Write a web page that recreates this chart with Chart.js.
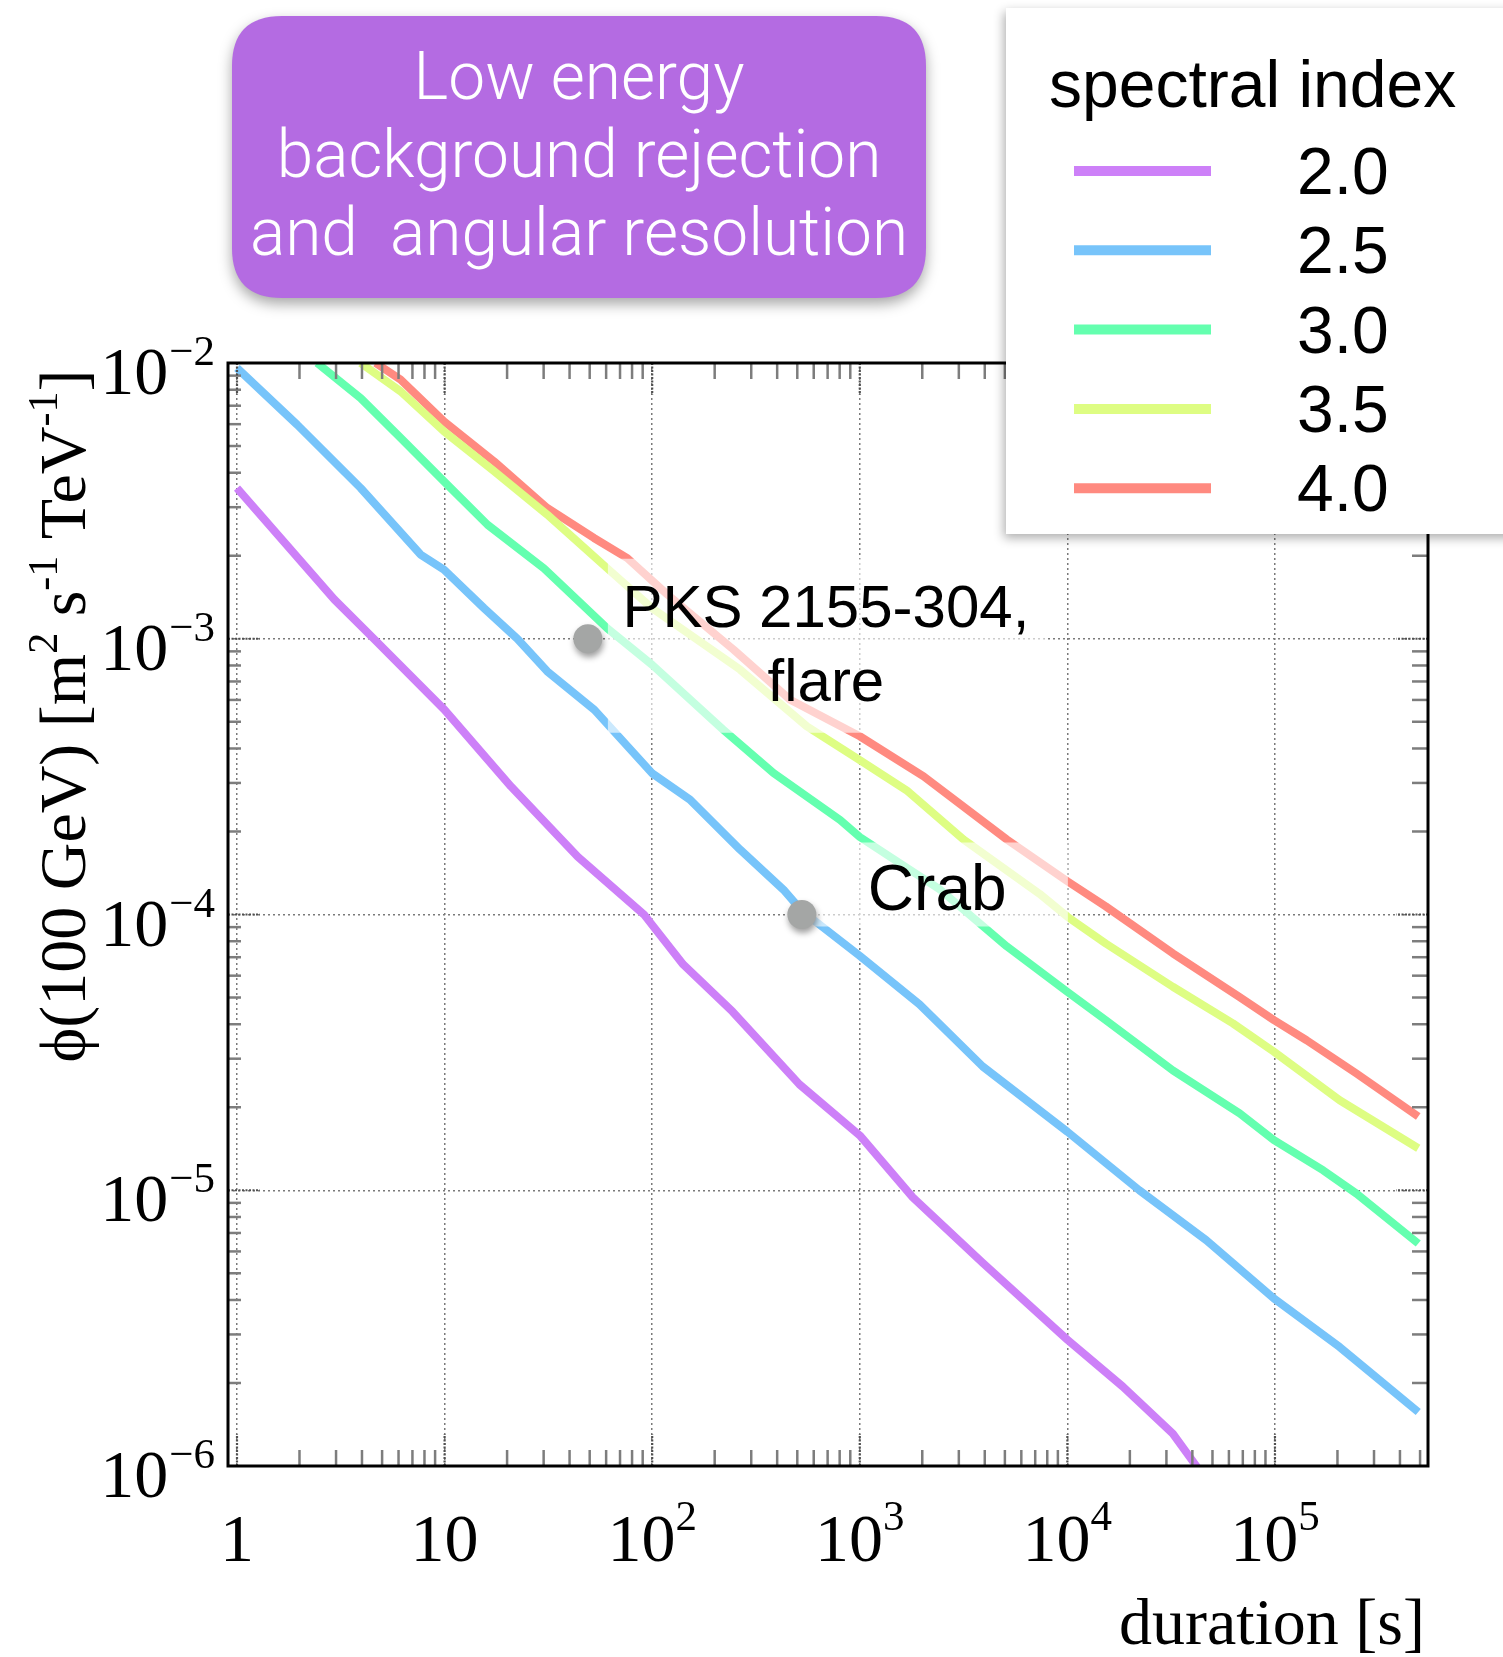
<!DOCTYPE html>
<html>
<head>
<meta charset="utf-8">
<script src="https://cdn.jsdelivr.net/npm/chart.js@4.4.1/dist/chart.umd.min.js"></script>
<style>
html,body{margin:0;padding:0;background:#fff;overflow:hidden}
#wrap{position:relative;width:1503px;height:1657px}
</style>
</head>
<body>
<div id="wrap"><canvas id="c"></canvas></div>
<script>
// ---------------- data ----------------
const seriesLabels = ["2.0", "2.5", "3.0", "3.5", "4.0"];
const seriesColors = ["#cd80f8", "#77c4fa", "#64ffaf", "#defd83", "#ff8a80"];

const dur20 = [1, 2.94, 4.56, 10, 20.9, 43.8, 91.8, 141, 244, 512, 1000, 1800, 3910, 1.0e4, 1.85e4, 3.22e4, 4.18e4, 4.57e4];
const phi20 = [3.52e-3, 1.39e-3, 1.00e-3, 5.52e-4, 2.91e-4, 1.62e-4, 9.95e-5, 6.59e-5, 4.44e-5, 2.42e-5, 1.58e-5, 9.42e-6, 5.45e-6, 2.87e-6, 1.94e-6, 1.31e-6, 1.0e-6, 8.7e-7];

const dur25 = [1, 1.95, 3.94, 7.66, 9.93, 15.5, 22.4, 31.2, 52.7, 100, 152, 265, 429, 526, 1000, 1940, 3910, 1.0e4, 2.22e4, 4.67e4, 9.89e4, 2.05e5, 4.9e5];
const phi25 = [9.59e-3, 5.97e-3, 3.52e-3, 2.02e-3, 1.78e-3, 1.29e-3, 1.00e-3, 7.62e-4, 5.52e-4, 3.25e-4, 2.61e-4, 1.72e-4, 1.23e-4, 1.03e-4, 7.08e-5, 4.72e-5, 2.81e-5, 1.63e-5, 1.0e-5, 6.59e-6, 4.05e-6, 2.70e-6, 1.57e-6];

const dur30 = [2.43, 3.94, 6.14, 9.93, 16.1, 30.1, 60.8, 100, 220, 384, 804, 1000, 2440, 5110, 1.0e4, 1.53e4, 3.22e4, 6.76e4, 9.89e4, 1.71e5, 2.47e5, 4.9e5];
const phi30 = [1.0e-2, 7.46e-3, 5.35e-3, 3.72e-3, 2.59e-3, 1.80e-3, 1.09e-3, 8.04e-4, 4.68e-4, 3.26e-4, 2.20e-4, 1.91e-4, 1.23e-4, 7.66e-5, 5.24e-5, 4.14e-5, 2.72e-5, 1.90e-5, 1.52e-5, 1.18e-5, 9.72e-6, 6.41e-6];

const dur35 = [3.94, 6.14, 9.93, 17.3, 31.2, 60.8, 100, 265, 556, 1000, 1680, 3160, 7330, 1.0e4, 1.53e4, 3.22e4, 6.27e4, 9.89e4, 2.05e5, 4.9e5];
const phi35 = [1.0e-2, 7.89e-3, 5.65e-3, 4.05e-3, 2.82e-3, 1.80e-3, 1.29e-3, 7.73e-4, 4.81e-4, 3.63e-4, 2.82e-4, 1.87e-4, 1.19e-4, 9.82e-5, 7.85e-5, 5.47e-5, 4.03e-5, 3.18e-5, 2.12e-5, 1.42e-5];

const dur40 = [4.65, 6.14, 9.93, 17.3, 31.2, 52.4, 75.9, 118, 247, 462, 1000, 2030, 5110, 1.0e4, 1.53e4, 3.22e4, 6.76e4, 9.89e4, 1.42e5, 2.47e5, 4.9e5];
const phi40 = [1.0e-2, 8.71e-3, 6.14e-3, 4.40e-3, 2.98e-3, 2.32e-3, 1.96e-3, 1.45e-3, 9.12e-4, 6.01e-4, 4.43e-4, 3.17e-4, 1.87e-4, 1.32e-4, 1.07e-4, 7.23e-5, 5.02e-5, 4.14e-5, 3.50e-5, 2.65e-5, 1.85e-5];

const markerLines = [["PKS 2155-304,", "flare"], ["Crab"]];
const markerDur = [49, 526];
const markerPhi = [1.0e-3, 1.0e-4];

const xTickValues = [1, 10, 100, 1000, 1e4, 1e5];
const xTickBase = ["1", "10", "10", "10", "10", "10"];
const xTickExp = ["", "", "2", "3", "4", "5"];
const yTickValues = [1e-2, 1e-3, 1e-4, 1e-5, 1e-6];
const yTickBase = ["10", "10", "10", "10", "10"];
const yTickExp = ["\u22122", "\u22123", "\u22124", "\u22125", "\u22126"];

const xTitle = "duration [s]";
const yTitlePieces = [
  {t: "\u03d5(100 GeV) [m"}, {t: "2", sup: true}, {t: " s"}, {t: "-1", sup: true},
  {t: " TeV"}, {t: "-1", sup: true}, {t: "]"}
];
const legendTitle = "spectral index";
const titleLines = ["Low energy", "background rejection", "and  angular resolution"];

// ---------------- chart ----------------
const durs = [dur20, dur25, dur30, dur35, dur40];
const phis = [phi20, phi25, phi30, phi35, phi40];

const SERIF = '"Liberation Serif", "Times New Roman", Times, serif';
const SANS = '"Liberation Sans", Arial, Helvetica, sans-serif';

function drawRich(ctx, pieces, x, y, align, nFont, sFont, raise) {
  let w = 0;
  const ws = pieces.map(p => { ctx.font = p.sup ? sFont : nFont; const m = ctx.measureText(p.t).width; w += m; return m; });
  let cx = align === 'center' ? x - w / 2 : (align === 'right' ? x - w : x);
  ctx.textAlign = 'left';
  pieces.forEach((p, i) => {
    ctx.font = p.sup ? sFont : nFont;
    ctx.fillText(p.t, cx, p.sup ? y - raise : y);
    cx += ws[i];
  });
}

function roundRect(ctx, x, y, w, h, r) {
  ctx.beginPath();
  ctx.moveTo(x + r, y);
  ctx.lineTo(x + w - r, y);
  ctx.quadraticCurveTo(x + w, y, x + w, y + r);
  ctx.lineTo(x + w, y + h - r);
  ctx.quadraticCurveTo(x + w, y + h, x + w - r, y + h);
  ctx.lineTo(x + r, y + h);
  ctx.quadraticCurveTo(x, y + h, x, y + h - r);
  ctx.lineTo(x, y + r);
  ctx.quadraticCurveTo(x, y, x + r, y);
  ctx.closePath();
}

const MARKER_INDEX = seriesLabels.length;

const decor = {
  id: 'decor',
  beforeDraw(chart) {
    const ctx = chart.ctx;
    ctx.save();
    ctx.fillStyle = '#fff';
    ctx.fillRect(0, 0, chart.width, chart.height);
    ctx.restore();
  },
  beforeDatasetDraw(chart, args) {
    if (args.index !== MARKER_INDEX) return;
    const {ctx, scales: {x, y}} = chart;
    const p0 = {x: x.getPixelForValue(markerDur[0]), y: y.getPixelForValue(markerPhi[0])};
    const p1 = {x: x.getPixelForValue(markerDur[1]), y: y.getPixelForValue(markerPhi[1])};
    ctx.save();
    ctx.fillStyle = 'rgba(255,255,255,0.62)';
    ctx.fillRect(p0.x + 20, p0.y - 80, 437, 174);
    ctx.fillRect(p1.x + 6, p1.y - 72, 260, 84);
    ctx.fillStyle = '#000';
    ctx.textAlign = 'center';
    ctx.font = '60px ' + SANS;
    ctx.fillText(markerLines[0][0], p0.x + 238, p0.y - 12);
    ctx.fillText(markerLines[0][1], p0.x + 238, p0.y + 62);
    ctx.textAlign = 'left';
    ctx.font = '64px ' + SANS;
    ctx.fillText(markerLines[1][0], p1.x + 66, p1.y - 5);
    ctx.restore();
    ctx.save();
    ctx.shadowColor = 'rgba(0,0,0,0.38)';
    ctx.shadowBlur = 6;
    ctx.shadowOffsetX = 1;
    ctx.shadowOffsetY = 4;
  },
  afterDatasetDraw(chart, args) {
    if (args.index !== MARKER_INDEX) return;
    chart.ctx.restore();
  },
  afterDraw(chart) {
    const {ctx, chartArea: a, scales: {x, y}} = chart;
    ctx.save();
    const seg = (x1, y1, x2, y2) => { ctx.beginPath(); ctx.moveTo(x1, y1); ctx.lineTo(x2, y2); ctx.stroke(); };
    // minor ticks
    ctx.strokeStyle = '#7d7d7d';
    ctx.lineWidth = 2.5;
    const L = 16;
    for (let e = 0; e <= 5; e++) {
      for (let m = 2; m <= 9; m++) {
        const v = m * Math.pow(10, e);
        if (v > x.max) continue;
        const px = x.getPixelForValue(v);
        seg(px, a.bottom, px, a.bottom - L);
        seg(px, a.top, px, a.top + L);
      }
    }
    for (let e = -6; e <= -3; e++) {
      for (let m = 2; m <= 9; m++) {
        const py = y.getPixelForValue(m * Math.pow(10, e));
        seg(a.left, py, a.left + 13, py);
        seg(a.right, py, a.right - L, py);
      }
    }
    // major ticks
    ctx.strokeStyle = '#505050';
    ctx.lineWidth = 2.2;
    ctx.setLineDash([2, 1.5]);
    xTickValues.forEach(v => {
      const px = x.getPixelForValue(v);
      seg(px, a.bottom, px, a.bottom - 32);
      seg(px, a.top, px, a.top + 32);
    });
    yTickValues.forEach(v => {
      const py = y.getPixelForValue(v);
      seg(a.left, py, a.left + 32, py);
      seg(a.right, py, a.right - 32, py);
    });
    ctx.setLineDash([]);
    // frame
    ctx.strokeStyle = '#000';
    ctx.lineWidth = 3;
    ctx.strokeRect(a.left, a.top, a.right - a.left, a.bottom - a.top);

    // tick labels
    ctx.fillStyle = '#000';
    ctx.textBaseline = 'alphabetic';
    const nF = '68px ' + SERIF, sF = '43px ' + SERIF;
    xTickValues.forEach((v, i) => {
      const px = x.getPixelForValue(v);
      const pieces = [{t: xTickBase[i]}];
      if (xTickExp[i]) pieces.push({t: xTickExp[i], sup: true});
      drawRich(ctx, pieces, px, a.bottom + 95, 'center', nF, sF, 31);
    });
    yTickValues.forEach((v, i) => {
      const py = y.getPixelForValue(v);
      ctx.font = sF;
      const we = ctx.measureText(yTickExp[i]).width;
      ctx.textAlign = 'right';
      ctx.fillText(yTickExp[i], a.left - 13, py + 2);
      ctx.font = nF;
      ctx.fillText(yTickBase[i], a.left - 14 - we, py + 31);
    });

    // axis titles
    ctx.font = '66px ' + SERIF;
    ctx.textAlign = 'right';
    ctx.fillText(xTitle, 1425, 1644);
    ctx.save();
    ctx.translate(85, 716);
    ctx.rotate(-Math.PI / 2);
    drawRich(ctx, yTitlePieces, 0, 0, 'center', '66px ' + SERIF, '42px ' + SERIF, 28);
    ctx.restore();

    // title box
    ctx.save();
    ctx.shadowColor = 'rgba(0,0,0,0.35)';
    ctx.shadowBlur = 14;
    ctx.shadowOffsetY = 6;
    roundRect(ctx, 232, 16, 694, 282, 50);
    ctx.fillStyle = '#b46be2';
    ctx.fill();
    ctx.restore();
    const tFam = '"Roboto", "Lato", "Inter", "Open Sans", sans-serif';
    ctx.font = '300 100px ' + tFam;
    const ref = ctx.measureText(titleLines[1]).width;
    const tSize = 100 * 605 / ref;
    ctx.font = '300 ' + tSize.toFixed(1) + 'px ' + tFam;
    ctx.fillStyle = '#fff';
    ctx.textAlign = 'center';
    [99, 177, 255].forEach((by, i) => ctx.fillText(titleLines[i], 579, by));

    // legend
    ctx.save();
    ctx.shadowColor = 'rgba(0,0,0,0.32)';
    ctx.shadowBlur = 10;
    ctx.shadowOffsetX = -2;
    ctx.shadowOffsetY = 4;
    ctx.fillStyle = '#fff';
    ctx.fillRect(1006, 8, 530, 526);
    ctx.restore();
    ctx.fillStyle = '#000';
    ctx.textAlign = 'left';
    ctx.font = '66px ' + SANS;
    ctx.fillText(legendTitle, 1049, 107);
    seriesLabels.forEach((lab, i) => {
      const ly = 171 + i * 79.3;
      ctx.strokeStyle = seriesColors[i];
      ctx.lineWidth = 10;
      ctx.lineCap = 'butt';
      seg(1074, ly, 1211, ly);
      ctx.fillStyle = '#000';
      ctx.fillText(lab, 1297, ly + 23);
    });
    ctx.restore();
  }
};

const datasets = seriesLabels.map((lab, i) => ({
  label: lab,
  data: durs[i].map((t, k) => ({x: t, y: phis[i][k]})),
  borderColor: seriesColors[i],
  backgroundColor: seriesColors[i],
  borderWidth: 8,
  pointRadius: 0,
  pointHoverRadius: 0,
  tension: 0,
  fill: false,
  borderCapStyle: 'butt',
  borderJoinStyle: 'round',
  order: i
}));
datasets.push({
  label: 'sources',
  data: markerDur.map((t, k) => ({x: t, y: markerPhi[k]})),
  showLine: false,
  pointRadius: 14.5,
  pointHoverRadius: 14.5,
  pointBackgroundColor: '#a4a6a5',
  pointBorderWidth: 0,
  borderWidth: 0,
  order: -1,
  clip: false
});

new Chart(document.getElementById('c'), {
  type: 'line',
  data: {datasets},
  options: {
    responsive: true,
    maintainAspectRatio: false,
    animation: false,
    events: [],
    layout: {padding: {left: 228, top: 363, right: 75, bottom: 191}},
    plugins: {legend: {display: false}, tooltip: {enabled: false}},
    scales: {
      x: {
        type: 'logarithmic',
        min: 0.905,
        max: 5.46e5,
        afterBuildTicks: s => { s.ticks = xTickValues.map(v => ({value: v, major: true})); },
        afterFit: s => { s.height = 0; },
        ticks: {display: false},
        grid: {color: '#7a7a7a', lineWidth: 1.5, drawTicks: false},
        border: {display: false, dash: [2, 3]}
      },
      y: {
        type: 'logarithmic',
        min: 1e-6,
        max: 1e-2,
        afterBuildTicks: s => { s.ticks = yTickValues.map(v => ({value: v, major: true})); },
        afterFit: s => { s.width = 0; },
        ticks: {display: false},
        grid: {color: '#7a7a7a', lineWidth: 1.5, drawTicks: false},
        border: {display: false, dash: [2, 3]}
      }
    }
  },
  plugins: [decor]
});
</script>
</body>
</html>
